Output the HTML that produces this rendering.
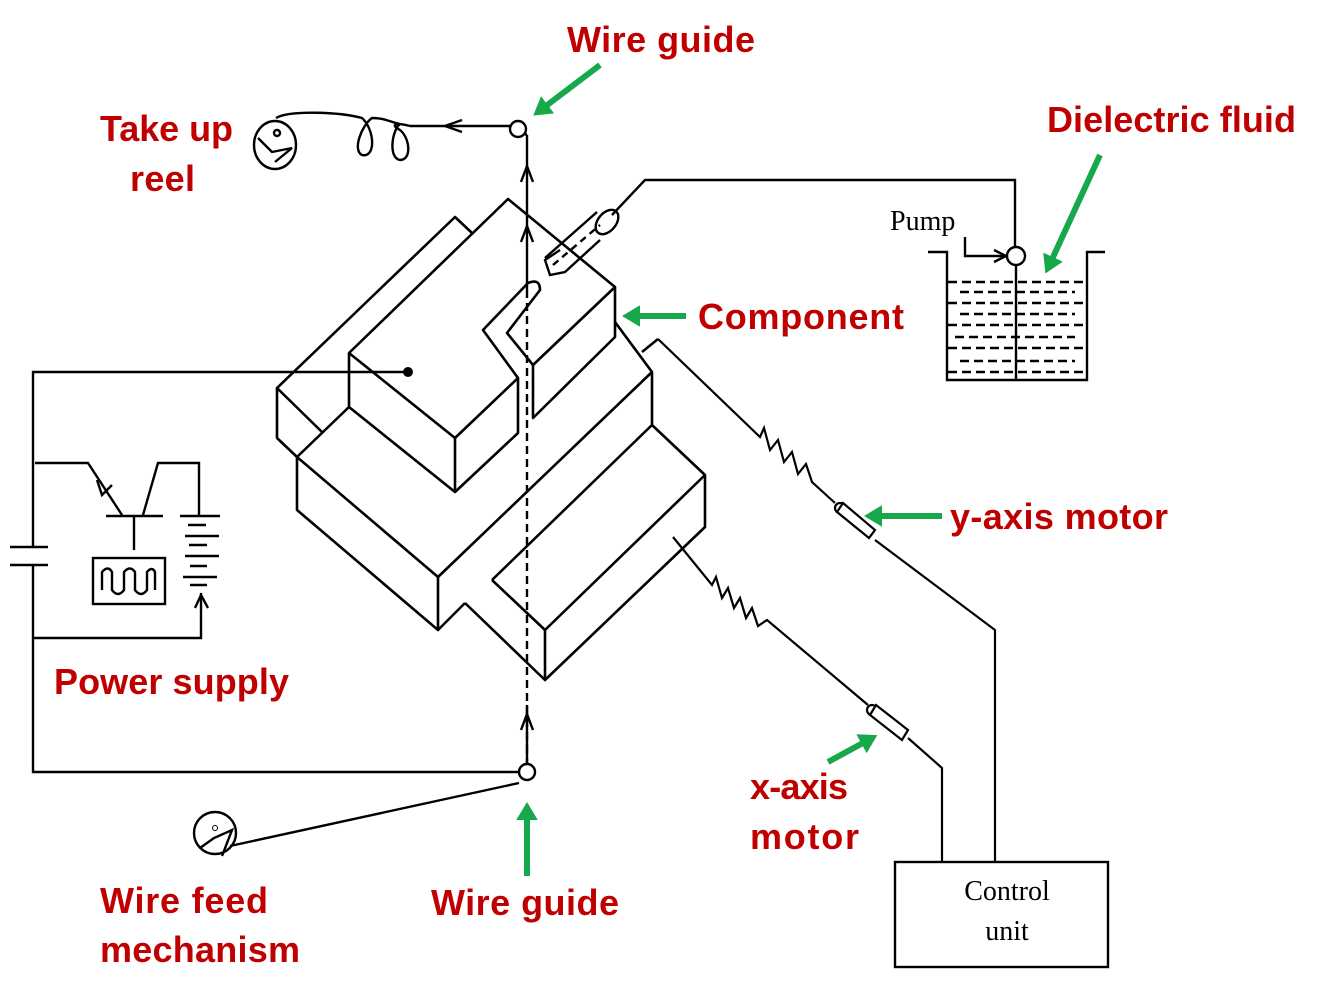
<!DOCTYPE html>
<html><head><style>
html,body{margin:0;padding:0;background:#fff;}
svg{display:block;}
.lbl{font-family:"Liberation Sans",sans-serif;font-weight:bold;fill:#c00000;font-size:36px;}
.ser{font-family:"Liberation Serif",serif;fill:#000;font-size:28px;}
</style></head><body>
<svg width="1333" height="1002" viewBox="0 0 1333 1002" xmlns="http://www.w3.org/2000/svg">
<defs>
<marker id="ga" markerWidth="4" markerHeight="4" refX="2" refY="2" orient="auto" markerUnits="strokeWidth"><path d="M0,0.2 L3,2 L0,3.8 Z" fill="#17a84b"/></marker>
</defs>
<g fill="none" stroke="#000" stroke-width="2.6" stroke-linejoin="round">
<polyline points="322,432 277,388 455,217 472,233"/>
<polyline points="277,388 277,438 297,457"/>
<polyline points="349,407 349,353 508,199 615,287 615,337 533,418 533,365 615,287"/>
<polyline points="349,353 455,438 518,378 518,433 455,492 349,407"/>
<line x1="455" y1="438" x2="455" y2="492"/>
<path d="M518,378 L483,330 L528,283 Q540,278 540,290 L507,333 L533,365"/>
<polyline points="297,457 349,407"/>
<polyline points="297,457 438,577 652,372 615,322"/>
<polyline points="297,457 297,510 438,630 438,577"/>
<polyline points="438,630 465,603"/>
<polyline points="652,372 652,425 492,580"/>
<polyline points="652,425 705,475 705,527 545,680 465,603"/>
<polyline points="705,475 545,630 545,680"/>
<line x1="492" y1="580" x2="545" y2="630"/>
<polyline points="642,352 658,339"/>
</g>
<g stroke="#000" stroke-width="2.4" fill="none">
<line x1="517" y1="130" x2="527" y2="135"/>
<line x1="527" y1="135" x2="527" y2="290"/>
<line x1="527" y1="290" x2="527" y2="770" stroke-dasharray="8,5"/>
<line x1="527" y1="705" x2="527" y2="765"/>
<polyline points="521,182 527,166 533,182"/>
<polyline points="521,242 527,226 533,242"/>
<polyline points="521,730 527,714 533,730"/>
<circle cx="518" cy="129" r="8" fill="#fff"/>
<circle cx="527" cy="772" r="8" fill="#fff"/>
<line x1="510" y1="126" x2="410" y2="126"/>
<polyline points="462,120 445,126 462,132"/>
<path d="M410,126 C395,122 390,125 400,130 C410,138 412,160 400,160 C388,158 392,130 400,124 C390,122 385,118 372,118 C362,125 352,150 362,155 C376,158 375,130 362,118 C340,112 290,110 276,118"/>
<ellipse cx="275" cy="145" rx="21" ry="24"/>
<path d="M258,138 L272,152 L292,148 L275,162"/>
<circle cx="277" cy="133" r="3"/>
<path d="M560,250 L545,260 L550,275 L565,272 L600,240"/>
<path d="M545,258 L597,212"/>
<ellipse cx="607" cy="222" rx="9" ry="14" transform="rotate(40 607 222)"/>
<path d="M553,265 L600,225" stroke-dasharray="7,5"/>
<polyline points="612,215 645,180 1015,180 1015,247"/>
<polyline points="928,252 947,252 947,380 1087,380 1087,252 1105,252"/>
<circle cx="1016" cy="256" r="9" fill="#fff"/>
<line x1="1016" y1="265" x2="1016" y2="380"/>
<polyline points="965,237 965,256 1006,256"/>
<polyline points="994,250 1006,256 994,262"/>
</g>
<g stroke="#000" stroke-width="2.5" stroke-dasharray="9,5">
<line x1="948" y1="282" x2="1083" y2="282"/><line x1="960" y1="292" x2="1075" y2="292"/>
<line x1="948" y1="303" x2="1083" y2="303"/><line x1="960" y1="314" x2="1075" y2="314"/>
<line x1="948" y1="325" x2="1083" y2="325"/><line x1="955" y1="337" x2="1075" y2="337"/>
<line x1="948" y1="348" x2="1083" y2="348"/><line x1="960" y1="361" x2="1075" y2="361"/>
<line x1="948" y1="372" x2="1083" y2="372"/>
</g>
<text x="890" y="230" class="ser">Pump</text>
<g stroke="#000" stroke-width="2.2" fill="none">
<polyline points="658,339 760,437 764,428 770,450 778,440 784,462 792,452 798,474 806,464 812,482 835,503"/>
<circle cx="840" cy="508" r="5" fill="#fff"/>
<polygon points="843,503 875,530 869,538 837,512" fill="#fff"/>
<polyline points="875,540 995,630 995,862"/>
<polyline points="673,537 712,585 716,577 722,598 728,588 734,608 740,598 746,618 752,608 758,626 767,620 868,705"/>
<circle cx="872" cy="710" r="5" fill="#fff"/>
<polygon points="876,705 908,730 902,740 870,715" fill="#fff"/>
<polyline points="908,738 942,768 942,862"/>
<rect x="895" y="862" width="213" height="105" stroke-width="2.4"/>
</g>
<text x="1007" y="900" class="ser" text-anchor="middle">Control</text>
<text x="1007" y="940" class="ser" text-anchor="middle">unit</text>
<g stroke="#000" stroke-width="2.4" fill="none">
<polyline points="408,372 33,372 33,547"/>
<line x1="10" y1="547" x2="48" y2="547"/>
<line x1="10" y1="565" x2="48" y2="565"/>
<polyline points="33,565 33,772 518,772"/>
<polyline points="35,463 88,463 122,515"/>
<polyline points="97,480 102,495 112,485"/>
<line x1="106" y1="516" x2="163" y2="516"/>
<line x1="134" y1="516" x2="134" y2="550"/>
<polyline points="143,515 158,463 199,463 199,516"/>
<rect x="93" y="558" width="72" height="46"/>
<path d="M102,590 L102,572 Q108,565 112,572 L112,590 Q118,598 124,590 L124,572 Q130,565 135,572 L135,590 Q141,598 147,590 L147,572 Q152,566 155,572 L155,590"/>
<line x1="180" y1="516" x2="220" y2="516"/>
<line x1="188" y1="525" x2="206" y2="525"/><line x1="185" y1="536" x2="219" y2="536"/>
<line x1="189" y1="545" x2="207" y2="545"/><line x1="185" y1="556" x2="219" y2="556"/>
<line x1="190" y1="566" x2="207" y2="566"/><line x1="183" y1="577" x2="217" y2="577"/>
<line x1="190" y1="585" x2="207" y2="585"/>
<polyline points="33,638 201,638 201,593"/>
<polyline points="195,608 201,595 208,608"/>
<circle cx="215" cy="833" r="21"/>
<path d="M200,848 L214,838 L232,830 L222,856"/>
<line x1="230" y1="846" x2="519" y2="783"/>
</g>
<circle cx="408" cy="372" r="5" fill="#000"/>
<circle cx="215" cy="828" r="2.5" fill="none" stroke="#000"/>
<g stroke="#17a84b" stroke-width="6" fill="none" marker-end="url(#ga)">
<line x1="600" y1="65" x2="538" y2="112"/>
<line x1="1100" y1="155" x2="1048" y2="268"/>
<line x1="686" y1="316" x2="628" y2="316"/>
<line x1="942" y1="516" x2="870" y2="516"/>
<line x1="828" y1="762" x2="872" y2="738"/>
<line x1="527" y1="876" x2="527" y2="808"/>
</g>
<text x="567" y="52" class="lbl" textLength="188">Wire guide</text>
<text x="100" y="141" class="lbl" textLength="133">Take up</text>
<text x="130" y="191" class="lbl" textLength="65">reel</text>
<text x="1047" y="132" class="lbl" textLength="249">Dielectric fluid</text>
<text x="698" y="329" class="lbl" textLength="206">Component</text>
<text x="950" y="529" class="lbl" textLength="218">y-axis motor</text>
<text x="54" y="694" class="lbl" textLength="235">Power supply</text>
<text x="750" y="799" class="lbl" textLength="98">x-axis</text>
<text x="750" y="849" class="lbl" textLength="109">motor</text>
<text x="100" y="913" class="lbl" textLength="168">Wire feed</text>
<text x="100" y="962" class="lbl" textLength="200">mechanism</text>
<text x="431" y="915" class="lbl" textLength="188">Wire guide</text>
</svg>
</body></html>
